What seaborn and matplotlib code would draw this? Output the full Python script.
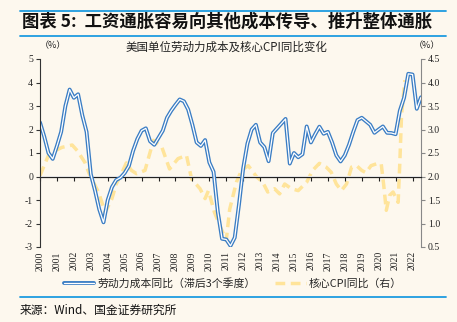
import numpy as np
import pandas as pd
import matplotlib
matplotlib.use("Agg")
import matplotlib.pyplot as plt
import seaborn as sns

# ---------------- data ----------------
# unit labour cost YoY (lagged 3 quarters), quarterly, left axis
labor_t = [2000.00 + 0.25 * i for i in range(91)]
labor_v = [2.3, 1.7, 1.0, 0.75, 1.3, 1.9, 3.0, 3.7, 3.35, 3.5, 2.6, 1.9,
           0.1, -0.6, -1.4, -1.95, -1.0, -0.45, -0.15, -0.05, 0.15, 0.45, 1.1, 1.6,
           1.95, 2.05, 1.5, 1.35, 1.65, 1.95, 2.5, 2.8, 3.05, 3.28, 3.2, 2.85,
           2.2, 1.45, 1.3, 1.55, 0.6, 0.2, -1.5, -2.65, -2.68, -2.95, -2.6, -1.2,
           0.35, 1.4, 2.0, 2.2, 1.45, 1.25, 0.65, 1.85, 2.05, 2.25, 2.45, 0.55,
           1.0, 0.82, 0.95, 2.13, 1.45, 1.8, 2.12, 1.82, 1.9, 1.45, 0.9, 0.64,
           0.9, 1.35, 1.9, 2.4, 2.5, 2.35, 2.2, 1.86, 2.0, 2.13, 1.86, 1.85,
           1.8, 2.8, 3.35, 4.37, 4.34, 2.88, 3.37]
# core CPI YoY, right axis
cpi_t = [2000.0, 2000.5, 2000.9, 2001.3, 2001.9, 2002.2, 2002.65, 2002.95, 2003.45,
         2003.85, 2004.25, 2004.5, 2004.85, 2005.1, 2005.4, 2005.7, 2006.2, 2006.7,
         2007.2, 2007.65, 2008.15, 2008.65, 2008.95, 2009.45, 2009.75, 2009.95,
         2010.3, 2010.7, 2011.0, 2011.2, 2011.6, 2011.9, 2012.3, 2012.8, 2013.15,
         2013.45, 2013.85, 2014.15, 2014.45, 2014.85, 2015.25, 2015.75, 2016.1,
         2016.5, 2016.9, 2017.2, 2017.5, 2017.8, 2018.1, 2018.4, 2018.7, 2019.0,
         2019.25, 2019.55, 2019.95, 2020.15, 2020.3, 2020.45, 2020.65, 2020.85,
         2021.15, 2021.25, 2021.35, 2021.55]
cpi_v = [2.02, 2.45, 2.55, 2.62, 2.67, 2.55, 2.3, 2.02, 1.67,
         1.24, 1.53, 1.84, 2.09, 2.29, 2.13, 2.06, 2.13, 2.77,
         2.62, 2.16, 2.38, 2.45, 1.95, 1.74, 1.53, 1.70,
         1.24, 0.89, 0.64, 1.3, 1.88, 2.13, 2.23, 1.99, 1.88,
         1.67, 1.74, 1.63, 1.84, 1.74, 1.70, 1.88, 2.13,
         2.28, 2.2, 2.09, 1.84, 1.70, 1.84, 2.2, 2.23, 2.13,
         2.08, 2.23, 2.28, 2.27, 1.81, 1.28, 1.6, 1.67,
         1.45, 2.3, 3.3, 4.05]
years = list(range(2000, 2023))
left_ticks = [5, 4, 3, 2, 1, 0, -1, -2, -3]
right_ticks = [4.5, 4.0, 3.5, 3.0, 2.5, 2.0, 1.5, 1.0, 0.5]

title = "图表 5:  工资通胀容易向其他成本传导、推升整体通胀"
subtitle = "美国单位劳动力成本及核心CPI同比变化"
label_labor = "劳动力成本同比（滞后3个季度）"
label_cpi = "核心CPI同比（右）"
source = "来源：Wind、国金证券研究所"

# ---------------- style ----------------
BG = "#FDF8EE"
BLUE = "#3A7DC4"
YELLOW = "#FFE49A"
LINEBLUE = "#1E9BE0"
DASH = (0, (2.8, 1.6))
sns.set_theme(style="white")
plt.rcParams['font.family'] = ['Noto Sans CJK SC', 'DejaVu Sans']
SERIF = 'Liberation Serif'

fig = plt.figure(figsize=(4.57, 3.22), dpi=100, facecolor=BG)
ax = fig.add_axes([40 / 457, 1 - 247 / 322, (421 - 40) / 457, (247 - 59) / 322])
ax.set_facecolor(BG)
ax2 = ax.twinx()

df_l = pd.DataFrame({"t": labor_t, "v": labor_v})
df_c = pd.DataFrame({"t": cpi_t, "v": cpi_v})

ax.set_zorder(2)
ax.patch.set_visible(False)
ax2.set_zorder(1)
ax2.set_facecolor(BG)
sns.lineplot(data=df_c, x="t", y="v", ax=ax2, color=YELLOW, lw=2.5,
             linestyle=DASH, legend=False)
sns.lineplot(data=df_l, x="t", y="v", ax=ax, color=BLUE, lw=2.8, legend=False)
sns.lineplot(data=df_l, x="t", y="v", ax=ax, color="white", lw=0.9, legend=False)

ax.set_xlim(2000, 2022.5)
ax.set_ylim(-3, 5)
ax2.set_ylim(0.5, 4.5)
for a in (ax, ax2):
    a.set_xlabel("")
    a.set_ylabel("")

ax.set_yticks(left_ticks)
ax.set_yticklabels([str(v) for v in left_ticks])
ax2.set_yticks(right_ticks)
ax2.set_yticklabels([f"{v:.1f}" for v in right_ticks])
ax.set_xticks(years)
ax.set_xticklabels([str(y) for y in years], rotation=90)
ax.tick_params(axis="x", length=0, pad=3, labelsize=7, labelcolor="#222222",
               labelfontfamily=SERIF)
ax.tick_params(axis="y", direction="out", length=3, width=0.8, color="#333333", pad=2,
               left=True, labelsize=7, labelcolor="#222222", labelfontfamily=SERIF)
ax2.tick_params(axis="y", direction="out", length=3, width=0.8, color="#888888", pad=2,
                right=True, labelsize=7, labelcolor="#222222", labelfontfamily=SERIF)

for sp in ["top", "bottom", "right"]:
    ax.spines[sp].set_visible(False)
for sp in ["top", "bottom", "left"]:
    ax2.spines[sp].set_visible(False)
ax.spines["left"].set_color("#333333")
ax.spines["left"].set_linewidth(0.8)
ax2.spines["right"].set_color("#888888")
ax2.spines["right"].set_linewidth(0.8)

# zero line with tick marks (secondary x axis at y=0)
sec = ax.secondary_xaxis(3 / 8)
sec.set_xticks(years)
sec.set_xticklabels([])
sec.tick_params(axis="x", direction="out", length=3, width=0.8, color="#222222")
sec.spines["bottom"].set_color("#222222")
sec.spines["bottom"].set_linewidth(0.9)

# ---------------- text ----------------
fig.text(22 / 457, 1 - 22 / 322, title, fontsize=12.5, fontweight="bold",
         fontstyle="italic", color="#111111", va="center", ha="left")
for yy in (11, 36):
    fig.add_artist(plt.Line2D([20 / 457, 446 / 457], [1 - yy / 322] * 2,
                              color=LINEBLUE, lw=1.3))
fig.text(226 / 457, 1 - 47 / 322, subtitle, fontsize=8.3, color="#222222",
         ha="center", va="center")
fig.text(53 / 457, 1 - 46 / 322, "（%）", fontsize=6.5, color="#222222",
         ha="center", va="center")
fig.text(427 / 457, 1 - 46 / 322, "（%）", fontsize=6.5, color="#222222",
         ha="center", va="center")

# legend
h1 = [plt.Line2D([], [], color=BLUE, lw=2.8), plt.Line2D([], [], color="white", lw=0.9)]
h2 = plt.Line2D([], [], color=YELLOW, lw=2.5, linestyle=DASH)
fig.legend([tuple(h1), h2], [label_labor, label_cpi], loc="center",
           bbox_to_anchor=(233 / 457, 1 - 283 / 322), ncol=2, frameon=False,
           fontsize=7.8, handlelength=2.8, columnspacing=1.8, handletextpad=0.3)
fig.add_artist(plt.Line2D([20 / 457, 446 / 457], [1 - 297 / 322] * 2,
                          color=LINEBLUE, lw=1.3))
fig.text(20 / 457, 1 - 310 / 322, source, fontsize=8.5, color="#111111",
         ha="left", va="center")

fig.savefig("out.png", dpi=100, facecolor=BG)
